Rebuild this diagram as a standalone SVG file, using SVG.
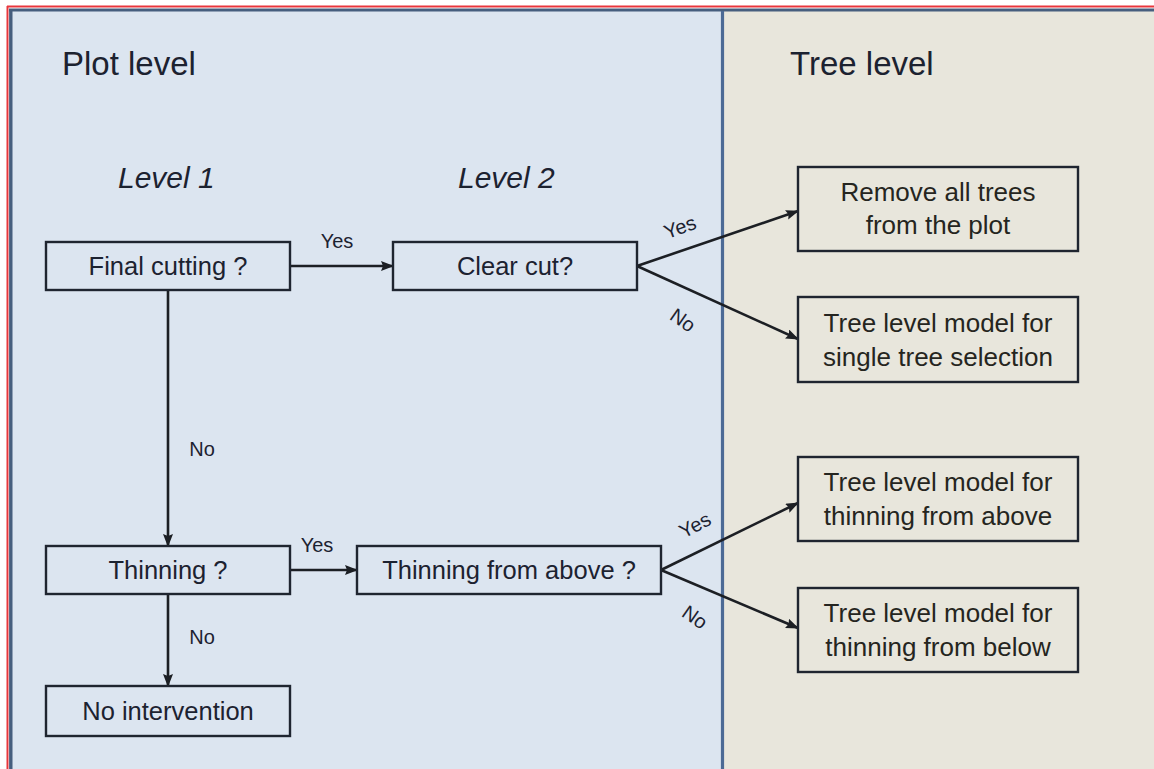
<svg xmlns="http://www.w3.org/2000/svg" width="1154" height="769" viewBox="0 0 1154 769">
<defs>
<marker id="ah" markerWidth="13" markerHeight="10" refX="12" refY="5" orient="auto" markerUnits="userSpaceOnUse">
<path d="M0,0 L13,5 L0,10 L2,5 Z" fill="#1c1f24"/>
</marker>
<style>
.box{fill:none;stroke:#1f2530;stroke-width:2.4}
.t{font-family:"Liberation Sans",Arial,sans-serif;fill:#1c2230;text-anchor:middle}
.bt{font-size:25.5px}
.rt{font-size:26px;fill:#252520}
.lbl{font-size:20px}
.hd{font-size:33px}
.lv{font-size:30px;font-style:italic}
.c{fill:none;stroke:#1c1f24;stroke-width:2.6}
</style>
</defs>
<rect x="0" y="0" width="1154" height="769" fill="#ffffff"/>
<rect x="12" y="11" width="710" height="758" fill="#dce5f0"/>
<rect x="722" y="11" width="432" height="758" fill="#e8e6dc"/>
<line x1="7" y1="6.5" x2="1154" y2="6.5" stroke="#e8363c" stroke-width="2"/>
<line x1="7.5" y1="6" x2="7.5" y2="769" stroke="#e8363c" stroke-width="2"/>
<line x1="9" y1="10" x2="1154" y2="10" stroke="#465e7e" stroke-width="3.2"/>
<line x1="10.8" y1="9" x2="10.8" y2="769" stroke="#465e7e" stroke-width="3.4"/>
<line x1="722.5" y1="11" x2="722.5" y2="769" stroke="#4c6a95" stroke-width="3.2"/>

<g id="headers">
<text class="t hd" x="62" y="75" style="text-anchor:start">Plot level</text>
<text class="t hd" x="790" y="75" style="text-anchor:start">Tree level</text>
<text class="t lv" x="118" y="188" style="text-anchor:start">Level 1</text>
<text class="t lv" x="458" y="188" style="text-anchor:start">Level 2</text>
</g>

<g id="connectors">
<line class="c" x1="290" y1="266" x2="393" y2="266" marker-end="url(#ah)"/>
<line class="c" x1="168" y1="290" x2="168" y2="546" marker-end="url(#ah)"/>
<line class="c" x1="290" y1="570" x2="357" y2="570" marker-end="url(#ah)"/>
<line class="c" x1="168" y1="594" x2="168" y2="686" marker-end="url(#ah)"/>
<line class="c" x1="637" y1="266" x2="798" y2="211" marker-end="url(#ah)"/>
<line class="c" x1="637" y1="266" x2="798" y2="339" marker-end="url(#ah)"/>
<line class="c" x1="661" y1="570" x2="798" y2="503" marker-end="url(#ah)"/>
<line class="c" x1="661" y1="570" x2="798" y2="628" marker-end="url(#ah)"/>
<text class="t lbl" x="337" y="248">Yes</text>
<text class="t lbl" x="202" y="456">No</text>
<text class="t lbl" x="317" y="552">Yes</text>
<text class="t lbl" x="202" y="644">No</text>
<text class="t lbl" x="680" y="234" transform="rotate(-20 680 227)">Yes</text>
<text class="t lbl" x="683" y="327" transform="rotate(35 683 320)">No</text>
<text class="t lbl" x="695" y="532" transform="rotate(-28 695 525)">Yes</text>
<text class="t lbl" x="695" y="624" transform="rotate(35 695 617)">No</text>
</g>

<g id="final-cutting">
<rect class="box" x="46" y="242" width="244" height="48"/>
<text class="t bt" x="168" y="275">Final cutting ?</text>
</g>
<g id="clear-cut">
<rect class="box" x="393" y="242" width="244" height="48"/>
<text class="t bt" x="515" y="275">Clear cut?</text>
</g>
<g id="thinning">
<rect class="box" x="46" y="546" width="244" height="48"/>
<text class="t bt" x="168" y="579">Thinning ?</text>
</g>
<g id="thinning-from-above">
<rect class="box" x="357" y="546" width="304" height="48"/>
<text class="t bt" x="509" y="579">Thinning from above ?</text>
</g>
<g id="no-intervention">
<rect class="box" x="46" y="686" width="244" height="50"/>
<text class="t bt" x="168" y="720">No intervention</text>
</g>
<g id="remove-all">
<rect class="box" x="798" y="167" width="280" height="84"/>
<text class="t rt" x="938" y="201">Remove all trees</text>
<text class="t rt" x="938" y="234">from the plot</text>
</g>
<g id="single-tree">
<rect class="box" x="798" y="297" width="280" height="85"/>
<text class="t rt" x="938" y="332">Tree level model for</text>
<text class="t rt" x="938" y="366">single tree selection</text>
</g>
<g id="thin-above">
<rect class="box" x="798" y="457" width="280" height="84"/>
<text class="t rt" x="938" y="491">Tree level model for</text>
<text class="t rt" x="938" y="525">thinning from above</text>
</g>
<g id="thin-below">
<rect class="box" x="798" y="588" width="280" height="84"/>
<text class="t rt" x="938" y="622">Tree level model for</text>
<text class="t rt" x="938" y="656">thinning from below</text>
</g>
</svg>
